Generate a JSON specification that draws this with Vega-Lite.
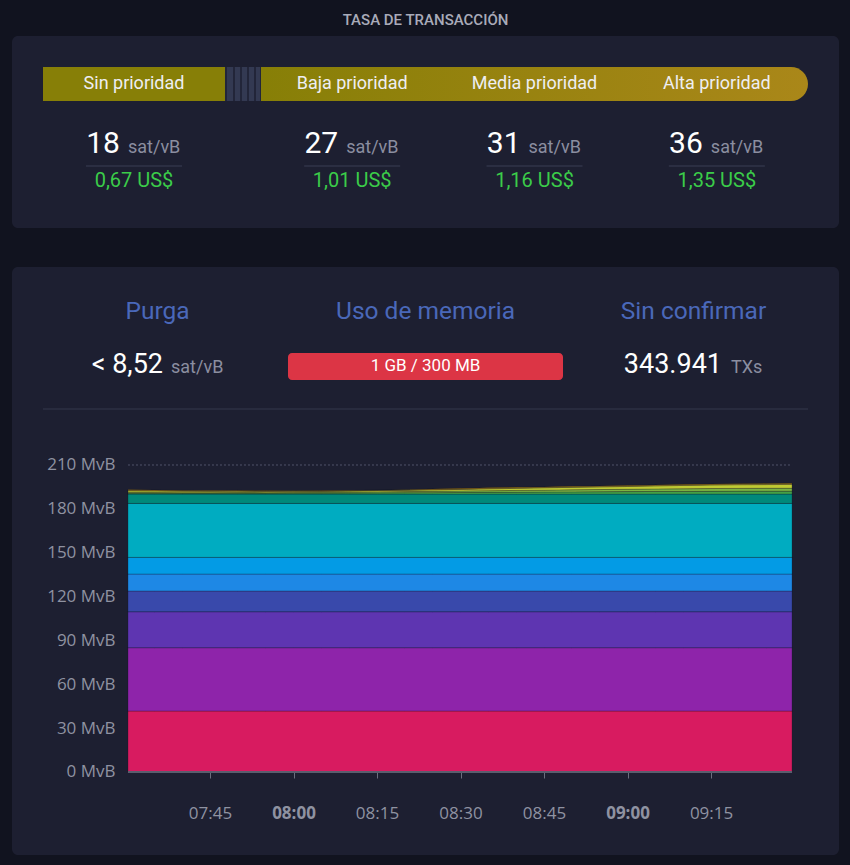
{
  "$schema": "https://vega.github.io/schema/vega-lite/v6.json",
  "background": "#11131f",
  "padding": {"left": 12, "right": 11, "top": 13, "bottom": 10},
  "title": {"text": "TASA DE TRANSACCIÓN", "font": "Roboto", "fontSize": 15, "fontWeight": 500, "color": "#a9abb9", "anchor": "middle", "offset": 8},
  "config": {"view": {"stroke": null}, "font": "Roboto"},
  "spacing": 39,
  "vconcat": [
    {
      "width": 827,
      "height": 192,
      "view": {"fill": "#1d1f31", "cornerRadius": 6, "stroke": null},
      "data": {"values": [
        {"p": "Sin prioridad", "fee": 18, "unit": "sat/vB", "usd": "0,67 US$"},
        {"p": "Baja prioridad", "fee": 27, "unit": "sat/vB", "usd": "1,01 US$"},
        {"p": "Media prioridad", "fee": 31, "unit": "sat/vB", "usd": "1,16 US$"},
        {"p": "Alta prioridad", "fee": 36, "unit": "sat/vB", "usd": "1,35 US$"}
      ]},
      "resolve": {"scale": {"x": "independent"}},
      "layer": [
        {
          "data": {"values": [{"seg": "separador"}]},
          "mark": {"type": "bar", "height": 34,
            "fill": {"gradient": "linear", "x1": 0, "y1": 0, "x2": 1, "y2": 0, "stops": [
              {"offset": 0, "color": "#222539"}, {"offset": 0.06, "color": "#222539"},
              {"offset": 0.06, "color": "#333952"}, {"offset": 0.22, "color": "#333952"},
              {"offset": 0.22, "color": "#222539"}, {"offset": 0.28, "color": "#222539"},
              {"offset": 0.28, "color": "#333952"}, {"offset": 0.42, "color": "#333952"},
              {"offset": 0.42, "color": "#222539"}, {"offset": 0.47, "color": "#222539"},
              {"offset": 0.47, "color": "#333952"}, {"offset": 0.61, "color": "#333952"},
              {"offset": 0.61, "color": "#222539"}, {"offset": 0.67, "color": "#222539"},
              {"offset": 0.67, "color": "#333952"}, {"offset": 0.81, "color": "#333952"},
              {"offset": 0.81, "color": "#222539"}, {"offset": 0.86, "color": "#222539"},
              {"offset": 0.86, "color": "#333952"}, {"offset": 0.97, "color": "#333952"},
              {"offset": 0.97, "color": "#222539"}, {"offset": 1, "color": "#222539"}
            ]}},
          "encoding": {
            "x": {"field": "seg", "type": "nominal", "axis": null, "scale": {"type": "band", "paddingInner": 0.90898, "paddingOuter": 1, "align": 0.26928}},
            "y": {"datum": "bar", "type": "nominal", "axis": null, "scale": {"type": "point", "domain": ["bar", "line"], "padding": 0.6707, "align": 0.4364}}
          }
        },
        {
          "data": {"values": [{"seg": "Baja–Alta prioridad"}]},
          "mark": {"type": "bar", "height": 34, "cornerRadiusTopRight": 17, "cornerRadiusBottomRight": 17,
            "fill": {"gradient": "linear", "x1": 0, "y1": 0, "x2": 1, "y2": 0, "stops": [{"offset": 0, "color": "#877f07"}, {"offset": 1, "color": "#aa8719"}]}},
          "encoding": {
            "x": {"field": "seg", "type": "nominal", "axis": null, "scale": {"type": "band", "paddingInner": 0, "paddingOuter": 0.25594, "align": 0.88929}},
            "y": {"datum": "bar", "type": "nominal", "axis": null, "scale": {"type": "point", "domain": ["bar", "line"], "padding": 0.6707, "align": 0.4364}}
          }
        },
        {
          "transform": [{"filter": "datum.p == 'Sin prioridad'"}],
          "encoding": {
            "x": {"field": "p", "type": "nominal", "axis": null, "scale": {"type": "band", "domain": ["Sin prioridad"], "paddingInner": 0.43566, "paddingOuter": 1, "align": 0.04806}}
          },
          "layer": [
            {"mark": {"type": "bar", "height": 34, "color": "#877f07"},
             "encoding": {"y": {"datum": "bar", "type": "nominal", "axis": null, "scale": {"type": "point", "domain": ["bar", "line"], "padding": 0.6707, "align": 0.4364}}}},
            {"mark": {"type": "text", "fontSize": 18, "color": "#eeeef2", "baseline": "middle"},
             "encoding": {"y": {"datum": "bar", "type": "nominal", "axis": null, "scale": {"type": "point", "domain": ["bar", "line"], "padding": 0.6707, "align": 0.4364}}, "text": {"field": "p"}}},
            {"mark": {"type": "text", "fontSize": 30, "color": "#ffffff", "align": "right", "baseline": "alphabetic", "dx": -14, "dy": -13},
             "encoding": {"y": {"datum": "line", "type": "nominal", "axis": null, "scale": {"type": "point", "domain": ["bar", "line"], "padding": 0.6707, "align": 0.4364}}, "text": {"field": "fee", "type": "quantitative"}}},
            {"mark": {"type": "text", "fontSize": 18, "color": "#8b8ea0", "align": "left", "baseline": "alphabetic", "dx": -6, "dy": -13},
             "encoding": {"y": {"datum": "line", "type": "nominal", "axis": null, "scale": {"type": "point", "domain": ["bar", "line"], "padding": 0.6707, "align": 0.4364}}, "text": {"field": "unit"}}},
            {"mark": {"type": "bar", "width": 96, "height": 1, "color": "#3b3e54"},
             "encoding": {"y": {"datum": "line", "type": "nominal", "axis": null, "scale": {"type": "point", "domain": ["bar", "line"], "padding": 0.6707, "align": 0.4364}}}},
            {"mark": {"type": "text", "fontSize": 20, "color": "#3bcc49", "baseline": "middle", "dy": 15},
             "encoding": {"y": {"datum": "line", "type": "nominal", "axis": null, "scale": {"type": "point", "domain": ["bar", "line"], "padding": 0.6707, "align": 0.4364}}, "text": {"field": "usd"}}}
          ]
        },
        {
          "transform": [{"filter": "datum.p != 'Sin prioridad'"}],
          "encoding": {
            "x": {"field": "p", "type": "nominal", "axis": null, "scale": {"type": "band", "domain": ["Baja prioridad", "Media prioridad", "Alta prioridad"], "paddingInner": 0, "paddingOuter": 0.7679, "align": 0.8893}}
          },
          "layer": [
            {"mark": {"type": "text", "fontSize": 18, "color": "#eeeef2", "baseline": "middle"},
             "encoding": {"y": {"datum": "bar", "type": "nominal", "axis": null, "scale": {"type": "point", "domain": ["bar", "line"], "padding": 0.6707, "align": 0.4364}}, "text": {"field": "p"}}},
            {"mark": {"type": "text", "fontSize": 30, "color": "#ffffff", "align": "right", "baseline": "alphabetic", "dx": -14, "dy": -13},
             "encoding": {"y": {"datum": "line", "type": "nominal", "axis": null, "scale": {"type": "point", "domain": ["bar", "line"], "padding": 0.6707, "align": 0.4364}}, "text": {"field": "fee", "type": "quantitative"}}},
            {"mark": {"type": "text", "fontSize": 18, "color": "#8b8ea0", "align": "left", "baseline": "alphabetic", "dx": -6, "dy": -13},
             "encoding": {"y": {"datum": "line", "type": "nominal", "axis": null, "scale": {"type": "point", "domain": ["bar", "line"], "padding": 0.6707, "align": 0.4364}}, "text": {"field": "unit"}}},
            {"mark": {"type": "bar", "width": 96, "height": 1, "color": "#3b3e54"},
             "encoding": {"y": {"datum": "line", "type": "nominal", "axis": null, "scale": {"type": "point", "domain": ["bar", "line"], "padding": 0.6707, "align": 0.4364}}}},
            {"mark": {"type": "text", "fontSize": 20, "color": "#3bcc49", "baseline": "middle", "dy": 15},
             "encoding": {"y": {"datum": "line", "type": "nominal", "axis": null, "scale": {"type": "point", "domain": ["bar", "line"], "padding": 0.6707, "align": 0.4364}}, "text": {"field": "usd"}}}
          ]
        }
      ]
    },
    {
      "width": 827,
      "height": 588,
      "view": {"fill": "#1d1f31", "cornerRadius": 6, "stroke": null},
      "resolve": {"scale": {"x": "independent", "y": "independent"}, "axis": {"x": "independent", "y": "independent"}},
      "layer": [
        {
          "data": {"values": [
            {"t": "2023-06-01T07:30:16", "r01": 41.7, "r02": 43.3, "r03": 24.6, "r04": 14.2, "r05": 11.6, "r06": 11.4, "r07": 36.9, "r08": 6.4, "r09": 0.5, "r10": 0.6, "r11": 1.1, "r12": 0.4, "r13": 0.3},
            {"t": "2023-06-01T07:35:00", "r01": 41.7, "r02": 43.3, "r03": 24.6, "r04": 14.2, "r05": 11.6, "r06": 11.4, "r07": 36.9, "r08": 6.4, "r09": 0.5, "r10": 0.6, "r11": 1.0, "r12": 0.4, "r13": 0.3},
            {"t": "2023-06-01T07:40:00", "r01": 41.7, "r02": 43.3, "r03": 24.6, "r04": 14.2, "r05": 11.6, "r06": 11.4, "r07": 36.9, "r08": 6.4, "r09": 0.5, "r10": 0.5, "r11": 1.0, "r12": 0.3, "r13": 0.2},
            {"t": "2023-06-01T07:45:00", "r01": 41.7, "r02": 43.3, "r03": 24.6, "r04": 14.2, "r05": 11.6, "r06": 11.4, "r07": 36.9, "r08": 6.4, "r09": 0.5, "r10": 0.5, "r11": 0.9, "r12": 0.3, "r13": 0.2},
            {"t": "2023-06-01T07:50:00", "r01": 41.7, "r02": 43.3, "r03": 24.6, "r04": 14.2, "r05": 11.6, "r06": 11.4, "r07": 36.9, "r08": 6.4, "r09": 0.5, "r10": 0.6, "r11": 0.9, "r12": 0.3, "r13": 0.2},
            {"t": "2023-06-01T07:55:00", "r01": 41.7, "r02": 43.3, "r03": 24.6, "r04": 14.2, "r05": 11.6, "r06": 11.4, "r07": 36.9, "r08": 6.4, "r09": 0.5, "r10": 0.5, "r11": 0.8, "r12": 0.3, "r13": 0.1},
            {"t": "2023-06-01T08:00:00", "r01": 41.7, "r02": 43.3, "r03": 24.6, "r04": 14.2, "r05": 11.6, "r06": 11.4, "r07": 36.9, "r08": 6.4, "r09": 0.6, "r10": 0.5, "r11": 0.8, "r12": 0.3, "r13": 0.1},
            {"t": "2023-06-01T08:05:00", "r01": 41.7, "r02": 43.3, "r03": 24.6, "r04": 14.2, "r05": 11.6, "r06": 11.4, "r07": 36.9, "r08": 6.4, "r09": 0.6, "r10": 0.6, "r11": 0.7, "r12": 0.2, "r13": 0.1},
            {"t": "2023-06-01T08:10:00", "r01": 41.7, "r02": 43.3, "r03": 24.6, "r04": 14.2, "r05": 11.6, "r06": 11.4, "r07": 36.9, "r08": 6.4, "r09": 0.7, "r10": 0.6, "r11": 0.8, "r12": 0.2, "r13": 0.1},
            {"t": "2023-06-01T08:15:00", "r01": 41.7, "r02": 43.3, "r03": 24.6, "r04": 14.2, "r05": 11.6, "r06": 11.4, "r07": 36.9, "r08": 6.4, "r09": 0.8, "r10": 0.7, "r11": 0.8, "r12": 0.3, "r13": 0.1},
            {"t": "2023-06-01T08:20:00", "r01": 41.7, "r02": 43.3, "r03": 24.6, "r04": 14.2, "r05": 11.6, "r06": 11.4, "r07": 36.9, "r08": 6.4, "r09": 0.9, "r10": 0.8, "r11": 0.9, "r12": 0.3, "r13": 0.1},
            {"t": "2023-06-01T08:25:00", "r01": 41.7, "r02": 43.3, "r03": 24.6, "r04": 14.2, "r05": 11.6, "r06": 11.4, "r07": 36.9, "r08": 6.4, "r09": 1.0, "r10": 0.9, "r11": 1.0, "r12": 0.3, "r13": 0.2},
            {"t": "2023-06-01T08:30:00", "r01": 41.7, "r02": 43.3, "r03": 24.6, "r04": 14.2, "r05": 11.6, "r06": 11.4, "r07": 36.9, "r08": 6.4, "r09": 1.1, "r10": 1.0, "r11": 1.1, "r12": 0.3, "r13": 0.3},
            {"t": "2023-06-01T08:35:00", "r01": 41.7, "r02": 43.3, "r03": 24.6, "r04": 14.2, "r05": 11.6, "r06": 11.4, "r07": 36.9, "r08": 6.4, "r09": 1.2, "r10": 1.1, "r11": 1.3, "r12": 0.4, "r13": 0.3},
            {"t": "2023-06-01T08:40:00", "r01": 41.7, "r02": 43.3, "r03": 24.6, "r04": 14.2, "r05": 11.6, "r06": 11.4, "r07": 36.9, "r08": 6.4, "r09": 1.3, "r10": 1.2, "r11": 1.4, "r12": 0.4, "r13": 0.3},
            {"t": "2023-06-01T08:45:00", "r01": 41.7, "r02": 43.3, "r03": 24.6, "r04": 14.2, "r05": 11.6, "r06": 11.4, "r07": 36.9, "r08": 6.4, "r09": 1.4, "r10": 1.3, "r11": 1.6, "r12": 0.4, "r13": 0.2},
            {"t": "2023-06-01T08:50:00", "r01": 41.7, "r02": 43.3, "r03": 24.6, "r04": 14.2, "r05": 11.6, "r06": 11.4, "r07": 36.9, "r08": 6.4, "r09": 1.5, "r10": 1.4, "r11": 1.7, "r12": 0.4, "r13": 0.3},
            {"t": "2023-06-01T08:55:00", "r01": 41.7, "r02": 43.3, "r03": 24.6, "r04": 14.2, "r05": 11.6, "r06": 11.4, "r07": 36.9, "r08": 6.4, "r09": 1.6, "r10": 1.5, "r11": 1.8, "r12": 0.4, "r13": 0.3},
            {"t": "2023-06-01T09:00:00", "r01": 41.7, "r02": 43.3, "r03": 24.6, "r04": 14.2, "r05": 11.6, "r06": 11.4, "r07": 36.9, "r08": 6.4, "r09": 1.7, "r10": 1.6, "r11": 1.9, "r12": 0.4, "r13": 0.3},
            {"t": "2023-06-01T09:05:00", "r01": 41.7, "r02": 43.3, "r03": 24.6, "r04": 14.2, "r05": 11.6, "r06": 11.4, "r07": 36.9, "r08": 6.4, "r09": 1.8, "r10": 1.7, "r11": 2.1, "r12": 0.4, "r13": 0.3},
            {"t": "2023-06-01T09:10:00", "r01": 41.7, "r02": 43.3, "r03": 24.6, "r04": 14.2, "r05": 11.6, "r06": 11.4, "r07": 36.9, "r08": 6.4, "r09": 1.8, "r10": 1.8, "r11": 2.3, "r12": 0.4, "r13": 0.3},
            {"t": "2023-06-01T09:15:00", "r01": 41.7, "r02": 43.3, "r03": 24.6, "r04": 14.2, "r05": 11.6, "r06": 11.4, "r07": 36.9, "r08": 6.4, "r09": 1.9, "r10": 1.9, "r11": 2.4, "r12": 0.4, "r13": 0.3},
            {"t": "2023-06-01T09:20:00", "r01": 41.7, "r02": 43.3, "r03": 24.6, "r04": 14.2, "r05": 11.6, "r06": 11.4, "r07": 36.9, "r08": 6.4, "r09": 2.0, "r10": 1.9, "r11": 2.5, "r12": 0.5, "r13": 0.2},
            {"t": "2023-06-01T09:25:00", "r01": 41.7, "r02": 43.3, "r03": 24.6, "r04": 14.2, "r05": 11.6, "r06": 11.4, "r07": 36.9, "r08": 6.4, "r09": 2.0, "r10": 2.0, "r11": 2.5, "r12": 0.5, "r13": 0.3},
            {"t": "2023-06-01T09:29:33", "r01": 41.7, "r02": 43.3, "r03": 24.6, "r04": 14.2, "r05": 11.6, "r06": 11.4, "r07": 36.9, "r08": 6.4, "r09": 2.0, "r10": 2.0, "r11": 2.6, "r12": 0.5, "r13": 0.3}
          ]},
          "transform": [{"fold": ["r01", "r02", "r03", "r04", "r05", "r06", "r07", "r08", "r09", "r10", "r11", "r12", "r13"], "as": ["range", "vsize"]}],
          "layer": [
            {
              "mark": {"type": "rule", "color": "#50536a", "strokeDash": [2, 2], "strokeWidth": 1},
              "encoding": {
                "x": {"aggregate": "min", "field": "t", "type": "temporal", "scale": {"domain": [{"year": 2023, "month": 6, "date": 1, "hours": 7, "minutes": 9, "seconds": 26}, {"year": 2023, "month": 6, "date": 1, "hours": 9, "minutes": 37, "seconds": 59}]}},
                "x2": {"aggregate": "max", "field": "t"},
                "y": {"datum": 210, "type": "quantitative", "scale": {"domain": [-56.78, 345.44], "nice": false, "zero": false}}
              }
            },
            {
              "mark": {"type": "area", "stroke": "#101220", "strokeOpacity": 0.35, "strokeWidth": 0.8},
              "encoding": {
                "x": {"field": "t", "type": "temporal", "title": null,
                  "scale": {"domain": [{"year": 2023, "month": 6, "date": 1, "hours": 7, "minutes": 9, "seconds": 26}, {"year": 2023, "month": 6, "date": 1, "hours": 9, "minutes": 37, "seconds": 59}]},
                  "axis": {"offset": -83, "domain": false, "grid": false, "ticks": true, "tickSize": 6, "tickColor": "#6b6e7e", "labelPadding": 27, "format": "%H:%M",
                    "labelFont": "Open Sans", "labelFontSize": 17, "labelColor": "#8f92a1",
                    "labelFontWeight": {"condition": {"test": "minutes(datum.value) == 0", "value": "bold"}, "value": "normal"},
                    "values": [
                      {"year": 2023, "month": 6, "date": 1, "hours": 7, "minutes": 45},
                      {"year": 2023, "month": 6, "date": 1, "hours": 8, "minutes": 0},
                      {"year": 2023, "month": 6, "date": 1, "hours": 8, "minutes": 15},
                      {"year": 2023, "month": 6, "date": 1, "hours": 8, "minutes": 30},
                      {"year": 2023, "month": 6, "date": 1, "hours": 8, "minutes": 45},
                      {"year": 2023, "month": 6, "date": 1, "hours": 9, "minutes": 0},
                      {"year": 2023, "month": 6, "date": 1, "hours": 9, "minutes": 15}
                    ]}},
                "y": {"field": "vsize", "type": "quantitative", "stack": "zero", "title": null,
                  "scale": {"domain": [-56.78, 345.44], "nice": false, "zero": false},
                  "axis": {"offset": -116, "domain": false, "grid": false, "ticks": false, "tickSize": 0, "labelPadding": 13,
                    "values": [0, 30, 60, 90, 120, 150, 180, 210], "labelExpr": "datum.value + ' MvB'",
                    "labelFont": "Open Sans", "labelFontSize": 17, "labelColor": "#8f92a1"}},
                "color": {"field": "range", "type": "nominal", "legend": null,
                  "scale": {"domain": ["r01", "r02", "r03", "r04", "r05", "r06", "r07", "r08", "r09", "r10", "r11", "r12", "r13"],
                    "range": ["#D81B60", "#8E24AA", "#5E35B1", "#3949AB", "#1E88E5", "#039BE5", "#00ACC1", "#00897B", "#43A047", "#7CB342", "#C0CA33", "#FDD835", "#FFB300"]}},
                "order": {"field": "range", "type": "ordinal", "sort": "ascending"}
              }
            },
            {
              "mark": {"type": "rule", "color": "#5a5d6e", "strokeWidth": 2},
              "encoding": {
                "x": {"aggregate": "min", "field": "t", "type": "temporal", "scale": {"domain": [{"year": 2023, "month": 6, "date": 1, "hours": 7, "minutes": 9, "seconds": 26}, {"year": 2023, "month": 6, "date": 1, "hours": 9, "minutes": 37, "seconds": 59}]}},
                "x2": {"aggregate": "max", "field": "t"},
                "y": {"datum": 0, "type": "quantitative", "scale": {"domain": [-56.78, 345.44], "nice": false, "zero": false}}
              }
            }
          ]
        },
        {
          "data": {"values": [
            {"col": "Purga", "value": "< 8,52", "unit": "sat/vB"},
            {"col": "Uso de memoria", "value": "1 GB / 300 MB", "unit": ""},
            {"col": "Sin confirmar", "value": "343.941", "unit": "TXs"}
          ]},
          "encoding": {
            "x": {"field": "col", "type": "nominal", "axis": null, "scale": {"type": "band", "domain": ["Purga", "Uso de memoria", "Sin confirmar"], "paddingInner": 0, "paddingOuter": 0.043, "align": 0.5}}
          },
          "layer": [
            {"mark": {"type": "text", "fontSize": 24.5, "color": "#4a68b9", "baseline": "middle"},
             "encoding": {"y": {"datum": 1, "type": "quantitative", "axis": null, "scale": {"domain": [0.0722, 12.196], "reverse": true, "nice": false, "zero": false}}, "text": {"field": "col"}}},
            {"transform": [{"filter": "datum.col == 'Purga'"}],
             "mark": {"type": "text", "fontSize": 27, "color": "#ffffff", "align": "right", "baseline": "alphabetic", "dx": 5.5, "dy": 13},
             "encoding": {"y": {"datum": 2, "type": "quantitative", "axis": null, "scale": {"domain": [0.0722, 12.196], "reverse": true, "nice": false, "zero": false}}, "text": {"field": "value"}}},
            {"transform": [{"filter": "datum.col == 'Purga'"}],
             "mark": {"type": "text", "fontSize": 18, "color": "#8b8ea0", "align": "left", "baseline": "alphabetic", "dx": 13.5, "dy": 13},
             "encoding": {"y": {"datum": 2, "type": "quantitative", "axis": null, "scale": {"domain": [0.0722, 12.196], "reverse": true, "nice": false, "zero": false}}, "text": {"field": "unit"}}},
            {"transform": [{"filter": "datum.col == 'Uso de memoria'"}],
             "mark": {"type": "tick", "orient": "horizontal", "size": 765, "thickness": 1, "color": "#35384d", "opacity": 1},
             "encoding": {"y": {"datum": 3, "type": "quantitative", "axis": null, "scale": {"domain": [0.0722, 12.196], "reverse": true, "nice": false, "zero": false}}}},
            {"transform": [{"filter": "datum.col == 'Uso de memoria'"}],
             "mark": {"type": "tick", "orient": "horizontal", "size": 275, "thickness": 27, "cornerRadius": 4, "color": "#dc3545", "opacity": 1, "yOffset": 6},
             "encoding": {"y": {"datum": 2, "type": "quantitative", "axis": null, "scale": {"domain": [0.0722, 12.196], "reverse": true, "nice": false, "zero": false}}}},
            {"transform": [{"filter": "datum.col == 'Uso de memoria'"}],
             "mark": {"type": "text", "fontSize": 17, "color": "#ffffff", "baseline": "middle", "dy": 5.5},
             "encoding": {"y": {"datum": 2, "type": "quantitative", "axis": null, "scale": {"domain": [0.0722, 12.196], "reverse": true, "nice": false, "zero": false}}, "text": {"field": "value"}}},
            {"transform": [{"filter": "datum.col == 'Sin confirmar'"}],
             "mark": {"type": "text", "fontSize": 27, "color": "#ffffff", "align": "right", "baseline": "alphabetic", "dx": 28.5, "dy": 13},
             "encoding": {"y": {"datum": 2, "type": "quantitative", "axis": null, "scale": {"domain": [0.0722, 12.196], "reverse": true, "nice": false, "zero": false}}, "text": {"field": "value"}}},
            {"transform": [{"filter": "datum.col == 'Sin confirmar'"}],
             "mark": {"type": "text", "fontSize": 18, "color": "#8b8ea0", "align": "left", "baseline": "alphabetic", "dx": 37.5, "dy": 13},
             "encoding": {"y": {"datum": 2, "type": "quantitative", "axis": null, "scale": {"domain": [0.0722, 12.196], "reverse": true, "nice": false, "zero": false}}, "text": {"field": "unit"}}}
          ]
        }
      ]
    }
  ]
}
